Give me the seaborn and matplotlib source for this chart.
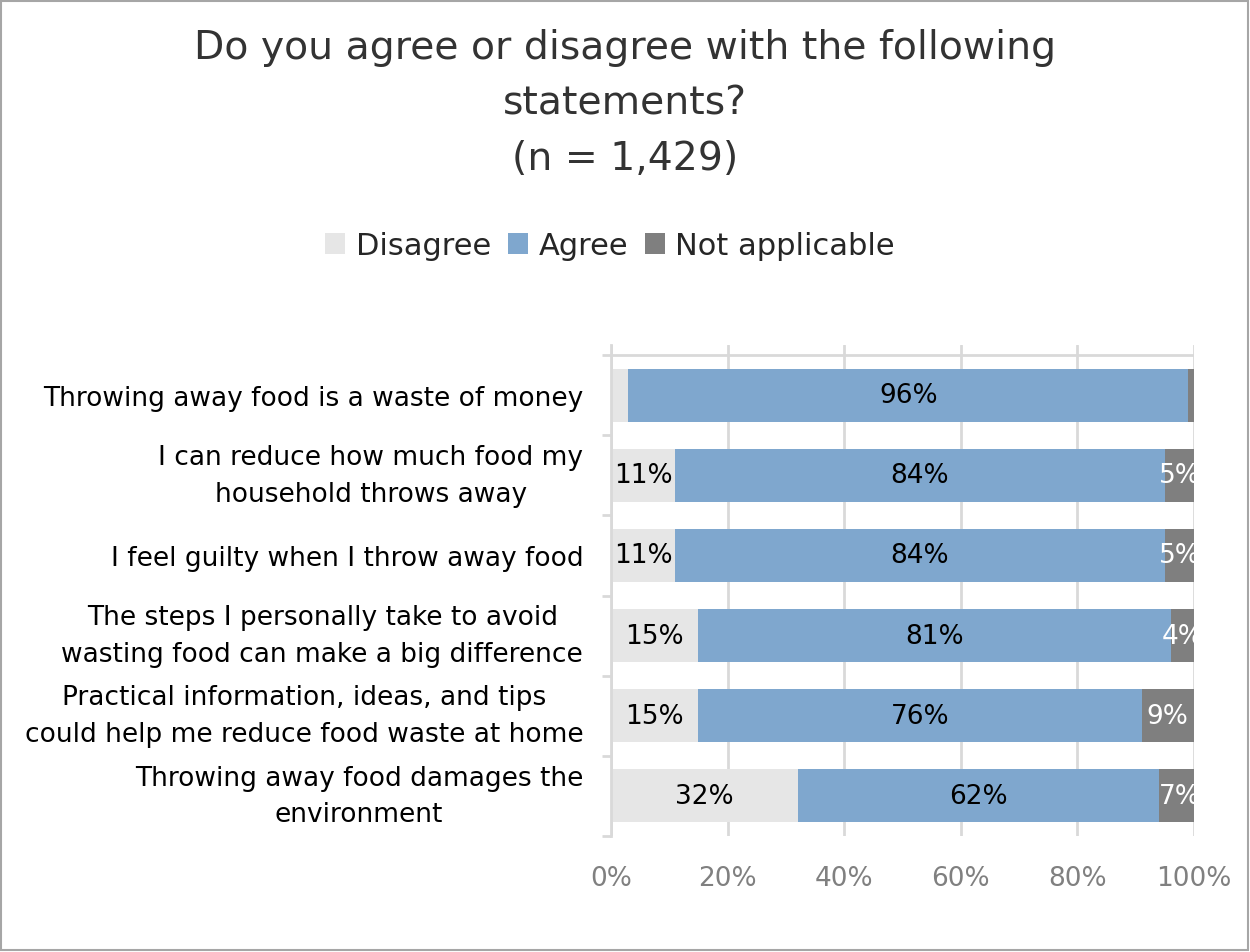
import matplotlib
matplotlib.use("Agg")
import matplotlib.pyplot as plt
from matplotlib.patches import Patch, Rectangle
import numpy as np
import pandas as pd
import seaborn as sns

# Survey statements (top to bottom) and the share of respondents per answer
statements = [
    "Throwing away food is a waste of money",
    "I can reduce how much food my\nhousehold throws away",
    "I feel guilty when I throw away food",
    "The steps I personally take to avoid\nwasting food can make a big difference",
    "Practical information, ideas, and tips\ncould help me reduce food waste at home",
    "Throwing away food damages the\nenvironment",
]
disagree = [3, 11, 11, 15, 15, 32]
agree = [96, 84, 84, 81, 76, 62]
not_applicable = [1, 5, 5, 4, 9, 7]

series_names = ["Disagree", "Agree", "Not applicable"]
series_colors = ["#E6E6E6", "#7FA7CE", "#7F7F7F"]
label_colors = ["black", "black", "white"]
x_ticks = [0, 20, 40, 60, 80, 100]
x_tick_labels = ["0%", "20%", "40%", "60%", "80%", "100%"]

title_text = "Do you agree or disagree with the following\nstatements?\n(n = 1,429)"

sns.set_theme(style="white")
plt.rcParams["font.family"] = ["DejaVu Sans"]

GRID = "#D9D9D9"

series_values = np.array([disagree, agree, not_applicable])
ends = np.cumsum(series_values, axis=0)
starts = ends - series_values

# Long table of cumulative bar ends; overlapping bars give the stacked look
records = []
for name, row_ends in zip(series_names, ends):
    for stmt, end in zip(statements, row_ends):
        records.append({"statement": stmt, "series": name, "end": end})
df = pd.DataFrame(records)

fig = plt.figure(figsize=(12.5, 9.53), dpi=100)
ax = fig.add_axes([0.4888, 0.1217, 0.4664, 0.5152])

sns.barplot(
    data=df, y="statement", x="end", hue="series",
    hue_order=series_names[::-1],
    palette=dict(zip(series_names, series_colors)),
    order=statements, dodge=False, width=0.66, orient="h",
    saturation=1, linewidth=0, errorbar=None, legend=False, ax=ax,
)

ax.set_xlim(0, 100)
ax.set_ylim(len(statements) - 0.5, -0.625)
ax.set_xlabel("")
ax.set_ylabel("")

# Vertical gridlines and the axis frame
ax.set_axisbelow(True)
ax.set_xticks(x_ticks)
ax.set_xticklabels(x_tick_labels)
ax.xaxis.grid(True, color=GRID, linewidth=2)
ax.yaxis.grid(False)
ax.tick_params(axis="x", length=0, pad=21, labelsize=19, labelcolor="#808080")
ax.axhline(-0.5, color=GRID, linewidth=2, zorder=0.5)
for side in ["top", "right", "bottom"]:
    ax.spines[side].set_visible(False)
ax.spines["left"].set_color(GRID)
ax.spines["left"].set_linewidth(2)

# Category boundary ticks (major) and statement labels (minor)
n = len(statements)
ax.set_yticks(np.arange(-0.5, n, 1.0))
ax.set_yticklabels([])
ax.tick_params(axis="y", which="major", left=True, direction="out",
               length=6.5, width=2, color=GRID)
ax.set_yticks(np.arange(n), minor=True)
ax.set_yticklabels(statements, minor=True)
ax.tick_params(axis="y", which="minor", left=True, length=0, pad=20,
               labelsize=19, labelcolor="black")
for lab in ax.get_yticklabels(minor=True):
    lab.set_multialignment("center")
    lab.set_linespacing(1.54)
    if "\n" in lab.get_text():
        lab.set_verticalalignment("center")

# Segment value labels
for j in range(len(series_names)):
    for i, v in enumerate(series_values[j]):
        if v < 4:
            continue
        ax.text(starts[j][i] + v / 2, i, f"{v}%", ha="center", va="center",
                fontsize=19, color=label_colors[j], clip_on=True, zorder=5)

# Title and legend
fig.text(0.5, 0.891, title_text, ha="center", va="center", fontsize=28.4,
         color="#333333", linespacing=1.58)

handles = [Patch(facecolor=c, edgecolor="none", label=nm)
           for nm, c in zip(series_names, series_colors)]
fig.legend(handles=handles, loc="center", bbox_to_anchor=(0.488, 0.741),
           ncol=3, frameon=False, fontsize=22, handlelength=0.65,
           handleheight=0.65, handletextpad=0.35, columnspacing=0.55,
           borderaxespad=0)

# Chart border
fig.patches.append(Rectangle((0.001, 0.002), 0.997, 0.996, transform=fig.transFigure,
                             fill=False, edgecolor="#A6A6A6", linewidth=1.5))

fig.savefig("out.png", dpi=100)
